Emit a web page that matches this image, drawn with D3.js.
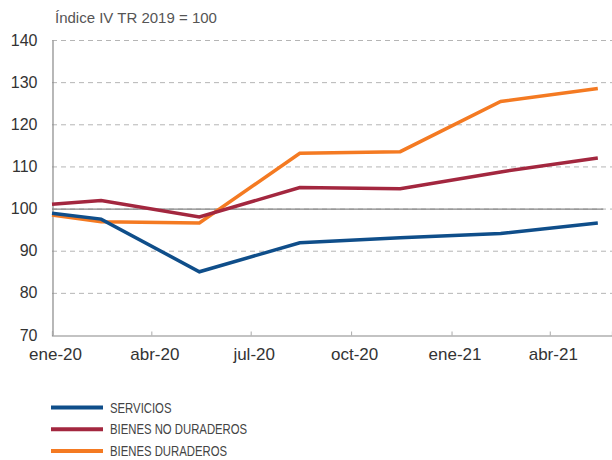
<!DOCTYPE html>
<html>
<head>
<meta charset="utf-8">
<script src="https://cdn.jsdelivr.net/npm/d3@7"></script>
<style>
body { margin: 0; background: #fff; }
svg { display: block; }
</style>
</head>
<body>
<div class="container"></div>
<script>
// datos trimestrales (indice IV TR 2019 = 100)
var fechas = ["2020-01-01", "2020-02-15", "2020-05-15", "2020-08-15", "2020-11-15", "2021-02-15", "2021-05-15"];
var servicios = [98.9, 97.5, 85.0, 91.9, 93.1, 94.1, 96.6];
var noDuraderos = [101.0, 101.9, 98.0, 105.0, 104.7, 108.7, 112.0];
var duraderos = [98.5, 96.9, 96.6, 113.1, 113.5, 125.4, 128.5];

var yTicks = [70, 80, 90, 100, 110, 120, 130, 140];
var xTicks = ["2020-01-01", "2020-04-01", "2020-07-01", "2020-10-01", "2021-01-01", "2021-04-01"];
var xTickLabels = ["ene-20", "abr-20", "jul-20", "oct-20", "ene-21", "abr-21"];

var series = [
	{ name: "SERVICIOS", values: servicios, color: "#0f4e8a" },
	{ name: "BIENES NO DURADEROS", values: noDuraderos, color: "#a3273f" },
	{ name: "BIENES DURADEROS", values: duraderos, color: "#f47a22" }
];

var W = 612, H = 460;
var parse = d3.utcParse("%Y-%m-%d");

var svg = d3.select(".container")
	.append("svg")
	.attr("width", W)
	.attr("height", H);

var x = d3.scaleUtc()
	.domain([parse("2020-01-01"), parse("2021-05-28")])
	.range([52, 612]);
var y = d3.scaleLinear()
	.domain([70, 140])
	.range([335, 40]);

// titulo
svg.append("text")
	.attr("x", 55)
	.attr("y", 23)
	.style("font-family", "'Liberation Sans', Arial, sans-serif")
	.style("font-size", "15px")
	.style("fill", "#555")
	.text("Índice IV TR 2019 = 100");

// lineas de rejilla discontinuas
svg.selectAll(".grid")
	.data(yTicks.filter(function(d) { return d > 70; }))
	.enter().append("line")
	.attr("class", "grid")
	.attr("x1", 52).attr("x2", W)
	.attr("y1", function(d) { return y(d) + 0.5; })
	.attr("y2", function(d) { return y(d) + 0.5; })
	.style("stroke", "#b5b5b5")
	.style("stroke-width", 1)
	.style("stroke-dasharray", "5,4");

// linea de referencia 100
svg.append("line")
	.attr("x1", 52).attr("x2", x(parse("2021-05-20")))
	.attr("y1", y(100) + 0.5).attr("y2", y(100) + 0.5)
	.style("stroke", "#858585")
	.style("stroke-width", 1.2);

// eje Y
var yAxis = svg.append("g")
	.attr("transform", "translate(52.5,0)")
	.call(d3.axisLeft(y).tickValues(yTicks).tickSize(0).tickPadding(15));
yAxis.select(".domain").style("stroke", "#888").style("stroke-width", 1.2);
yAxis.selectAll("text")
	.style("font-family", "'Liberation Sans', Arial, sans-serif")
	.style("font-size", "16px")
	.style("fill", "#333");

// eje X
var xAxis = svg.append("g")
	.attr("transform", "translate(0," + (y(70) + 0.5) + ")")
	.call(d3.axisBottom(x)
		.tickValues(xTicks.map(parse))
		.tickSize(-4)
		.tickPadding(12)
		.tickFormat(function(d, i) { return xTickLabels[i]; }));
xAxis.select(".domain").style("stroke", "#888").style("stroke-width", 1.2);
xAxis.selectAll(".tick line").style("stroke", "#aaa");
xAxis.selectAll("text")
	.attr("dx", 3)
	.style("font-family", "'Liberation Sans', Arial, sans-serif")
	.style("font-size", "17px")
	.style("fill", "#333");

// series
var line = d3.line()
	.x(function(d, i) { return x(parse(fechas[i])); })
	.y(function(d) { return y(d); });

svg.selectAll(".serie")
	.data(series.slice().reverse())
	.enter().append("path")
	.attr("class", "serie")
	.attr("d", function(s) { return line(s.values); })
	.style("fill", "none")
	.style("stroke", function(s) { return s.color; })
	.style("stroke-width", 3.5)
	.style("stroke-linejoin", "miter");

// leyenda (texto estrecho: se comprime en horizontal)
var leg = svg.selectAll(".leg")
	.data(series)
	.enter().append("g")
	.attr("class", "leg")
	.attr("transform", function(d, i) { return "translate(51," + (407.5 + i * 21.7) + ")"; });
leg.append("line")
	.attr("x1", 0).attr("x2", 52)
	.style("stroke", function(d) { return d.color; })
	.style("stroke-width", 4);
leg.append("text")
	.attr("transform", "translate(59,5) scale(0.81,1)")
	.style("font-family", "'Liberation Sans', Arial, sans-serif")
	.style("font-size", "14px")
	.style("fill", "#444")
	.text(function(d) { return d.name; });
</script>
</body>
</html>
